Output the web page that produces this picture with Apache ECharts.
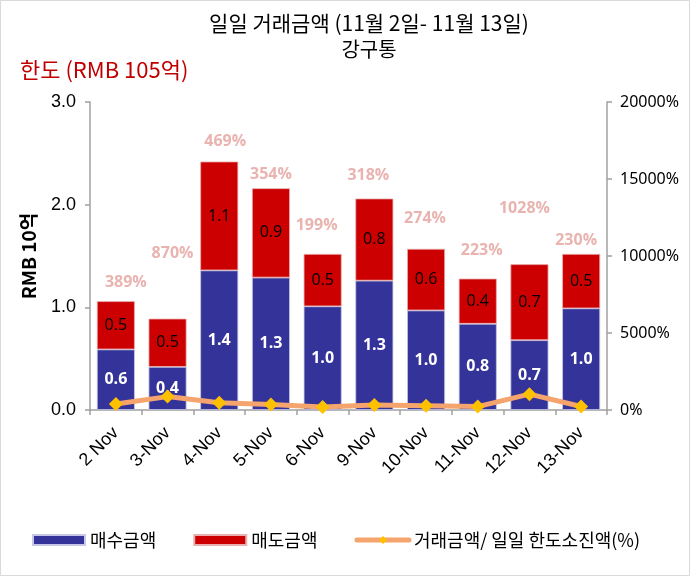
<!DOCTYPE html>
<html>
<head>
<meta charset="utf-8">
<script src="https://cdn.jsdelivr.net/npm/echarts@6/dist/echarts.min.js"></script>
<style>
html,body{margin:0;padding:0;background:#fff;}
#main{width:691px;height:577px;}
</style>
</head>
<body>
<div id="main"></div>
<script>
// ---- data ----
var categories = ['2 Nov','3-Nov','4-Nov','5-Nov','6-Nov','9-Nov','10-Nov','11-Nov','12-Nov','13-Nov'];
var buyValues  = [0.59, 0.42, 1.36, 1.29, 1.01, 1.26, 0.97, 0.84, 0.68, 0.99];
var sellValues = [0.47, 0.47, 1.06, 0.87, 0.51, 0.80, 0.60, 0.44, 0.74, 0.53];
var usagePct   = [389, 870, 469, 354, 199, 318, 274, 223, 1028, 230];
var leftTicks  = [0, 1, 2, 3];
var rightTicks = [0, 5000, 10000, 15000, 20000];

// ---- layout for the % labels (pixel shifts from bar tops) ----
var pctShift = [[10,-19],[5,-65],[6,-20],[0,-14],[-6,-29],[-6,-23],[-1,-30],[4,-28],[-5,-56],[-5,-14]];

var totals = buyValues.map(function(v,i){ return v + sellValues[i]; });

var chart = echarts.init(document.getElementById('main'), null, {renderer:'canvas'});
var numFont = '"Liberation Sans", Arial, sans-serif';
var krFont = '"Noto Sans CJK KR", sans-serif';
var lblFont = '"Open Sans", "Noto Sans", sans-serif';

var option = {
  animation: false,
  backgroundColor: '#fff',
  graphic: [
    {type:'rect', shape:{x:0.5,y:0.5,width:689,height:575}, style:{fill:'none', stroke:'#d9d9d9', lineWidth:1}, silent:true},
    {type:'text', x:369, y:23, style:{text:'일일 거래금액 (11월 2일- 11월 13일)', font:'21px "Noto Sans CJK KR"', fill:'#000', align:'center', verticalAlign:'middle'}},
    {type:'text', x:369, y:49, style:{text:'강구통', font:'20px "Noto Sans CJK KR"', fill:'#000', align:'center', verticalAlign:'middle'}},
    {type:'text', x:20, y:70, style:{text:'한도 (RMB 105억)', font:'22px "Noto Sans CJK KR"', fill:'#c00000', align:'left', verticalAlign:'middle'}}
  ],
  legend: {
    left: 32, top: 531, padding: 0,
    itemWidth: 52, itemHeight: 10, itemGap: 37,
    textStyle: {fontFamily: krFont, fontSize: 18, color:'#000'},
    lineStyle: {width: 5, cap: 'round'},
    data: [
      {name:'매수금액', icon:'rect'},
      {name:'매도금액', icon:'rect'},
      {name:'거래금액/ 일일 한도소진액(%)'}
    ]
  },
  grid: {left: 90, right: 84, top: 102, bottom: 167},
  xAxis: {
    type: 'category',
    data: categories,
    axisLine: {lineStyle:{color:'#a0a0a0', width:1.5}},
    axisTick: {show:true, alignWithLabel:false, length:5, lineStyle:{color:'#a0a0a0', width:1.5}},
    axisLabel: {rotate:45, margin:20, fontSize:18, color:'#000', fontFamily:numFont, interval:0}
  },
  yAxis: [
    {
      type:'value', min:0, max:3, interval:1,
      name:'RMB 10억', nameLocation:'middle', nameGap:52, nameRotate:90,
      nameTextStyle:{fontFamily:krFont, fontSize:19, fontWeight:'bold', color:'#000'},
      axisLine:{show:true, lineStyle:{color:'#a0a0a0', width:1.5}},
      axisTick:{show:true, length:5, lineStyle:{color:'#a0a0a0', width:1.5}},
      splitLine:{show:false},
      axisLabel:{fontSize:18, color:'#000', fontFamily:numFont, margin:14,
        formatter:function(v){ return v.toFixed(1); }}
    },
    {
      type:'value', min:0, max:20000, interval:5000, position:'right',
      axisLine:{show:true, lineStyle:{color:'#a0a0a0', width:1.5}},
      axisTick:{show:true, length:5, lineStyle:{color:'#a0a0a0', width:1.5}},
      splitLine:{show:false},
      axisLabel:{fontSize:16, color:'#000', fontFamily:'"Noto Sans", sans-serif', margin:13,
        formatter:function(v){ return v + '%'; }}
    }
  ],
  series: [
    {
      name:'매수금액', type:'bar', stack:'amt', data:buyValues, barWidth:38,
      itemStyle:{color:'#333399', borderColor:'#c8c8e6', borderWidth:0.8},
      label:{show:true, position:'inside', color:'#fff', fontWeight:'bold', fontSize:16, fontFamily:lblFont,
        formatter:function(p){ return p.value.toFixed(1); }}
    },
    {
      name:'매도금액', type:'bar', stack:'amt', data:sellValues, barWidth:38,
      itemStyle:{color:'#cc0000', borderColor:'#e8b0b0', borderWidth:0.8},
      label:{show:true, position:'inside', color:'#000', fontSize:16, fontFamily:lblFont,
        formatter:function(p){ return p.value.toFixed(1); }}
    },
    {
      name:'거래금액/ 일일 한도소진액(%)', type:'line', yAxisIndex:1, data:usagePct,
      lineStyle:{color:'#f4a46c', width:5},
      itemStyle:{color:'#ffc000'},
      symbol:'diamond', symbolSize:14, z:5
    },
    {
      name:'pctLabels', type:'scatter', yAxisIndex:0,
      data: totals.map(function(t,i){
        return {value:t, label:{offset:pctShift[i]}};
      }),
      symbolSize:1, itemStyle:{color:'rgba(0,0,0,0)'}, z:6, silent:true,
      label:{show:true, position:'inside', color:'#e3a09c', fontWeight:'bold', fontSize:16, fontFamily:lblFont,
        formatter:function(p){ return usagePct[p.dataIndex] + '%'; }}
    }
  ]
};
chart.setOption(option);
</script>
</body>
</html>
